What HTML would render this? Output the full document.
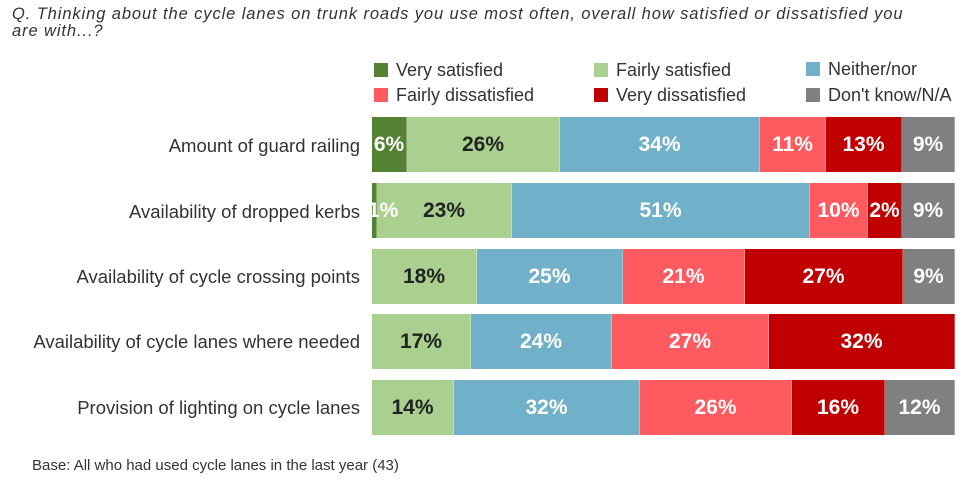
<!DOCTYPE html>
<html><head><meta charset="utf-8"><style>
body{margin:0;width:974px;height:488px;background:#fff;position:relative;overflow:hidden;font-family:"Liberation Sans",sans-serif;}
.t{position:absolute;left:12px;top:6px;font-size:16.5px;letter-spacing:0.9px;font-style:italic;color:#333;line-height:17px;width:970px}
.lg{position:absolute;font-size:18px;color:#333;line-height:20px}
.lg i{display:inline-block;width:14px;height:14px;margin-right:8px;vertical-align:-1px}
.lab{position:absolute;right:614px;font-size:18.5px;color:#333;text-align:right;white-space:nowrap}
.bar{position:absolute;left:372px;height:55px;display:flex}
.bar div{height:55px;display:flex;align-items:center;justify-content:center;font-weight:bold;font-size:21px;color:#fff;overflow:visible;white-space:nowrap;border-right:1px solid rgba(255,255,255,.3);box-sizing:border-box}
.bar div.a{position:relative;z-index:2}
.a{background:#548235}.b{background:#a9d08e;color:#222!important}.c{background:#70b0c8}.d{background:#ff5a5f}.e{background:#c00000}.f{background:#808080}
.base{position:absolute;left:32px;top:457px;font-size:15px;color:#333}
</style></head><body>
<div class="t">Q. Thinking about the cycle lanes on trunk roads you use most often, overall how satisfied or dissatisfied you<br>are with...?</div>
<div class="lg" style="left:374px;top:60px"><i class="a"></i>Very satisfied</div>
<div class="lg" style="left:594px;top:60px"><i class="b"></i>Fairly satisfied</div>
<div class="lg" style="left:806px;top:59px"><i class="c"></i>Neither/nor</div>
<div class="lg" style="left:374px;top:85px"><i class="d"></i>Fairly dissatisfied</div>
<div class="lg" style="left:594px;top:85px"><i class="e"></i>Very dissatisfied</div>
<div class="lg" style="left:806px;top:85px"><i class="f"></i>Don't know/N/A</div>

<div class="lab" style="top:135px">Amount of guard railing</div>
<div class="lab" style="top:201px">Availability of dropped kerbs</div>
<div class="lab" style="top:266px">Availability of cycle crossing points</div>
<div class="lab" style="top:331px">Availability of cycle lanes where needed</div>
<div class="lab" style="top:397px">Provision of lighting on cycle lanes</div>

<div class="bar" style="top:117px"><div class="a" style="width:35px">6%</div><div class="b" style="width:153px">26%</div><div class="c" style="width:200px">34%</div><div class="d" style="width:66px">11%</div><div class="e" style="width:76px">13%</div><div class="f" style="width:53px">9%</div></div>
<div class="bar" style="top:183px"><div class="a" style="width:5px;justify-content:flex-start"><span style="margin-left:-4px">1%</span></div><div class="b" style="width:135px">23%</div><div class="c" style="width:298px">51%</div><div class="d" style="width:58px">10%</div><div class="e" style="width:34px">2%</div><div class="f" style="width:53px">9%</div></div>
<div class="bar" style="top:249px"><div class="b" style="width:105px">18%</div><div class="c" style="width:146px">25%</div><div class="d" style="width:122px">21%</div><div class="e" style="width:158px">27%</div><div class="f" style="width:52px">9%</div></div>
<div class="bar" style="top:314px"><div class="b" style="width:99px">17%</div><div class="c" style="width:141px">24%</div><div class="d" style="width:157px">27%</div><div class="e" style="width:186px">32%</div></div>
<div class="bar" style="top:380px"><div class="b" style="width:82px">14%</div><div class="c" style="width:186px">32%</div><div class="d" style="width:152px">26%</div><div class="e" style="width:93px">16%</div><div class="f" style="width:70px">12%</div></div>

<div class="base">Base: All who had used cycle lanes in the last year (43)</div>
</body></html>
